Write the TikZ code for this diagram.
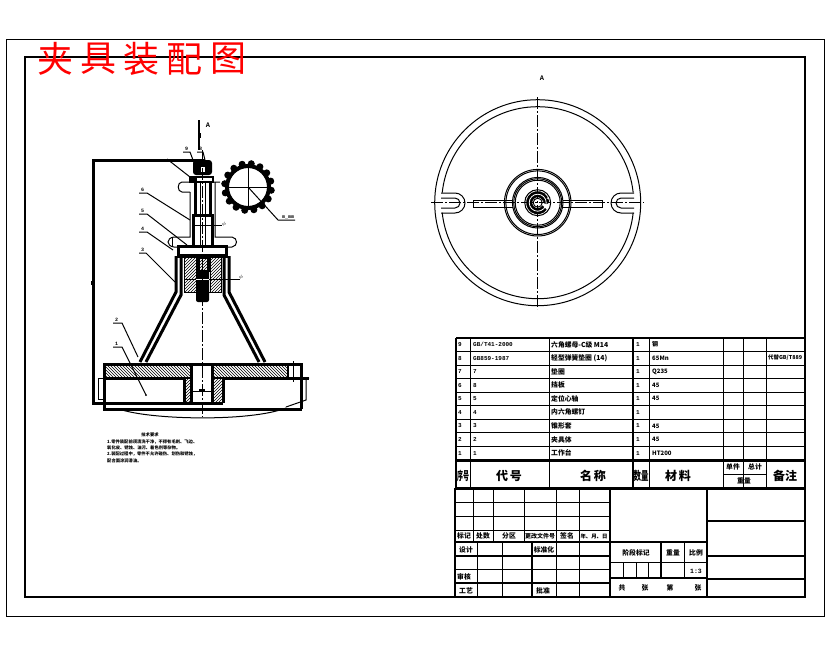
\documentclass[tikz,border=0pt]{standalone}
\usepackage{fontspec}
\setmainfont{Liberation Serif}
\newfontfamily\cjk{Noto Sans CJK SC}
\newfontfamily\latinmono{Liberation Mono}
\usetikzlibrary{patterns}
\tikzset{
  hair/.style={line width=1pt},
  mid/.style={line width=1.5pt},
  heavy/.style={line width=2.2pt},
  heavier/.style={line width=3pt},
  axisline/.style={line width=1pt,dash pattern=on 12pt off 2pt on 2pt off 2pt},
  cell/.style={font=\cjk\bfseries\fontsize{6.8}{8}\selectfont,inner sep=0pt},
  code/.style={font=\latinmono\bfseries\fontsize{6}{6}\selectfont,inner sep=0pt},
  headcell/.style={font=\cjk\bfseries\fontsize{12}{12}\selectfont,inner sep=0pt},
  tag/.style={font=\latinmono\bfseries\fontsize{5}{5}\selectfont,inner sep=0pt},
  note/.style={font=\cjk\bfseries\fontsize{4.3}{5}\selectfont,inner sep=0pt,anchor=west},
}
\begin{document}
\begin{tikzpicture}[x=1pt,y=-1pt]
  \useasboundingbox (0,0) rectangle (830,654);
  \draw [hair] (6,39) rectangle (824,616);
  \draw [heavy] (25,57) rectangle (805,597);

  % left view: frame and base
  \draw [heavier] (205,160) -- (93,160) -- (93,403) -- (223,403);
  \fill (91,281) rectangle (93,285);
  \draw [pattern=north west lines] (105,365) rectangle (190,377);
  \draw [pattern=north west lines] (213,365) rectangle (288,377);
  \draw [pattern=north east lines] (185,378) rectangle (190,402);
  \draw [pattern=north east lines] (213,378) rectangle (222,402);
  \draw [heavier] (104,409) -- (104,364) -- (301,364) -- (301,409);
  \draw [heavier] (103,409) -- (302,409);
  \draw [heavier] (104,378) -- (184,378) -- (184,403);
  \draw [heavier] (223,403) -- (223,378) -- (309,378);
  \draw [heavier] (191,364) -- (191,403);
  \draw [heavier] (212,364) -- (212,403);
  \draw [heavy] (288,364) -- (288,378);
  \draw [hair] (293,361) -- (293,382);
  \draw [hair] (191,391) -- (212,391);
  \fill (199,389) rectangle (205,392);
  \draw [hair] (103,378) -- (98,378) -- (98,399) -- (103,399);
  \draw [hair] (309,378) -- (306,378) -- (306,400) -- (286,407);
  \draw [hair] (119,409) .. controls (150,420) and (250,422) .. (286,408);

  % cone
  \draw [heavier] (176,256) -- (176,292) -- (140,362);
  \draw [heavier] (181,257) -- (181,295) -- (146,362);
  \draw [heavier] (229,256) -- (229,292) -- (265,362);
  \draw [heavier] (224,257) -- (224,295) -- (259,362);
  \draw [pattern=north east lines] (184,257) rectangle (196,292);
  \draw [pattern=north east lines] (210,257) rectangle (221,292);
  \draw [hair] (184,257) -- (184,292) -- (221,292) -- (221,257);
  \draw [heavier] (178,246) rectangle (226,255);
  \draw [heavy] (175,257) -- (230,257);
  \fill [rounded corners=2pt] (196,270) rectangle (209,302);
  \draw [heavier] (197,258) -- (197,272);
  \draw [heavier] (209,258) -- (209,272);
  \draw [pattern=north east lines] (199,258) rectangle (207,270);
  \draw [hair] (184,279) -- (240,279);
  \draw [hair,white] (196,279) -- (209,279);

  % left view: clamp body
  \draw [hair] (190,192) -- (182,192) .. controls (177,192) and (177,182) .. (182,182) -- (220,182);
  \draw [hair] (190,192) -- (190,237) -- (174,237) .. controls (166,238) and (166,246) .. (174,247) -- (178,247);
  \draw [hair] (172,237) -- (172,247);
  \draw [hair] (215,182) -- (215,237) -- (232,237) .. controls (238,238) and (238,246) .. (232,247) -- (226,247);
  \draw [heavier] (195,182) -- (195,215);
  \draw [heavier] (210,182) -- (210,215);
  \draw [heavier] (193,247) -- (193,215) -- (212,215) -- (212,247);
  \draw [hair] (200,182) -- (200,246);
  \draw [hair] (205,182) -- (205,246);
  \draw [hair] (193,225) -- (222,225);

  % nut and washer
  \fill [rounded corners=3pt] (193,160) rectangle (212,175);
  \fill [white] (201,167) rectangle (205,172);
  \draw [mid] (190,177) rectangle (213,182);
  \fill (190,176) rectangle (197,181);

  % axis and view arrow
  \draw [axisline] (202,150) -- (202,417);
  \draw [mid] (199,120) -- (199,150);
  \fill (197.5,133) rectangle (200.5,138);
  \node (viewa) [code,font=\latinmono\bfseries\fontsize{7}{7}\selectfont] at (208,125) {A};

  % gear
  \draw [line width=4pt] (248,187) circle [radius=21];
  \foreach \a in {0,22.5,...,337.5} {
    \fill (248,187) ++(\a+8:23.5) circle [radius=3.5];
  }
  \draw [hair] (225,187) -- (271,187);
  \draw [hair] (248,164) -- (248,210);
  \node (gearlabel) [tag] at (288,217) {m\_mm};
  \draw [hair] (248,187) -- (278,220) -- (295,220);

  % leaders
  \foreach \n/\xa/\ya/\xb/\xc/\yc in {
    9/183/152/190/193/160,
    8/197/152/203/205/160,
    6/139/193/147/190/220,
    5/139/214/147/187/245,
    4/139/232/147/173/250,
    3/139/253/146/175/282,
    2/113/323/122/138/357,
    1/113/347/122/146/395} {
    \draw [hair] (\xa,\ya) -- (\xb,\ya) -- (\xc,\yc);
    \node (tag\n) [tag] at (\xa+3.5,\ya-3) {\n};
  }
  \draw [hair] (167,159) -- (190,177);
  \fill (146,395) circle [radius=1];
  \node (tagd) [tag] at (224,224) {$\phi$};
  \node (tage) [tag] at (241,277) {$\phi$};

  % notes
  \node (notehead) [note,anchor=center] at (150,435) {技术要求};
  \node (notea) [note] at (107,442) {1.零件装配前须清洗干净，不得有毛刺、飞边、};
  \node (noteb) [note] at (107,448) {氧化皮、锈蚀、油污、着色剂等杂物。};
  \node (notec) [note] at (107,454) {2.装配过程中，零件不允许碰伤、划伤和锈蚀，};
  \node (noted) [note] at (107,461) {配合面涂润滑油。};

  % top view
  \node (viewb) [code,font=\latinmono\bfseries\fontsize{7}{7}\selectfont] at (542,78) {A};
  \def\cx{537.7}
  \def\cy{202.7}
  \draw [hair] (\cx,\cy) circle [radius=103];
  \draw [hair] (\cx,\cy) ++(-6:96) arc [start angle=-6,end angle=-174,radius=96];
  \draw [hair] (\cx,\cy) ++(6:96) arc [start angle=6,end angle=174,radius=96];
  \foreach \r in {33.3,31.8,25.3,24,22.5,13} {
    \draw [hair] (\cx,\cy) circle [radius=\r];
  }
  \draw [axisline] (\cx,97) -- (\cx,309);
  \draw [axisline] (431,\cy) -- (644,\cy);
  % slots
  \draw [hair] (441,193) -- (455,193) arc [start angle=-90,end angle=90,radius=10] -- (441,213);
  \draw [hair] (441,198) -- (455,198) arc [start angle=-90,end angle=90,radius=5] -- (441,208);
  \draw [hair] (634,193) -- (621,193) arc [start angle=-90,end angle=-270,radius=10] -- (634,213);
  \draw [hair] (634,198) -- (621,198) arc [start angle=-90,end angle=-270,radius=5] -- (634,208);
  \draw [hair] (513,200) -- (473,200) -- (473,207) -- (513,207);
  \draw [hair] (563,200) -- (602,200) -- (602,207) -- (563,207);
  % centre stud
  \draw [line width=6pt] (\cx,\cy) ++(35:8.5) arc [start angle=35,end angle=335,radius=8.5];
  \fill (\cx+8.5,\cy-1.5) circle [radius=3];
  \draw [white,line width=.8pt] (\cx,\cy) circle [radius=8.5];
  \draw [hair] (\cx,\cy) circle [radius=4.5];

  % parts list
  \draw [mid] (456,338) -- (805,338);
  \foreach \y in {351.5,365.1,378.7,392.2,405.8,419.3,432.9,446.4} {
    \draw [hair] (456,\y) -- (805,\y);
  }
  \foreach \x in {470,549,649,723,743,766} {
    \draw [hair] (\x,338) -- (\x,488);
  }
  \fill [white] (724,461) rectangle (742,473);
  \fill [white] (744,475) rectangle (765,487);
  \draw [hair] (743,460) -- (743,474);
  \draw [hair] (723,474) -- (766,474);
  \draw [mid] (633,338) -- (633,488);
  \draw [heavy] (456,338) -- (456,488);
  \draw [heavier] (455,460) -- (805,460);
  \draw [heavier] (455,488) -- (805,488);

  \foreach \n/\codetext/\parttext/\mattext [count=\ci] in {
    9/{GB/T41-2000}/{六角螺母-C级 M14}/钢,
    8/GB859-1987/{轻型弹簧垫圈 (14)}/65Mn,
    7/7/垫圈/Q235,
    6/8/挡板/45,
    5/5/定位心轴/45,
    4/4/内六角螺钉/{},
    3/3/锥形套/45,
    2/2/夹具体/45,
    1/1/工作台/HT200} {
    \pgfmathsetmacro{\y}{344.6+13.56*(\ci-1)}
    \node (no\n) [code,anchor=center] at (460,\y) {\n};
    \node (code\n) [code,anchor=west] at (473,\y) {\codetext};
    \node (part\n) [cell,anchor=west] at (551,\y) {\parttext};
    \node (qty\n) [code,anchor=center] at (638,\y) {1};
    \node (mat\n) [code,anchor=west,font=\cjk\bfseries\fontsize{6}{6}\selectfont] at (652,\y) {\mattext};
  }
  \node (extra) [cell,anchor=west,font=\cjk\bfseries\fontsize{5.4}{6}\selectfont] at (768,358) {代替GB/T889};

  \node (hno) [headcell] at (463,476) {\scalebox{.5}[1]{序号}};
  \node (hcode) [headcell] at (509,476) {代\,号};
  \node (hname) [headcell] at (593,476) {名\,称};
  \node (hqty) [headcell] at (641,476) {\scalebox{.62}[1]{数量}};
  \node (hmat) [headcell] at (678,476) {材\,料};
  \node (hsingle) [cell] at (733,467) {单件};
  \node (htotal) [cell] at (755,467) {总计};
  \node (hweight) [cell] at (744,481) {重量};
  \node (hnote) [headcell] at (785,476) {备注};

  % title block
  \foreach \y in {502,516,530} {
    \draw [hair] (455,\y) -- (610,\y);
  }
  \foreach \x in {473,493,524,556,579} {
    \draw [hair] (\x,488) -- (\x,542);
  }
  \foreach \x in {477,502,556,579} {
    \draw [hair] (\x,542) -- (\x,597);
  }
  \draw [heavy] (532,542) -- (532,597);
  \draw [mid] (455,542) -- (707,542);
  \draw [mid] (455,556) -- (610,556);
  \draw [hair] (455,569) -- (610,569);
  \draw [mid] (455,583) -- (610,583);
  \draw [heavy] (610,488) -- (610,597);
  \draw [heavy] (707,488) -- (707,597);
  \draw [mid] (707,521) -- (805,521);
  \draw [mid] (707,556) -- (805,556);
  \draw [mid] (707,579) -- (805,579);
  \draw [hair] (610,562) -- (707,562);
  \draw [mid] (610,578) -- (707,578);
  \draw [mid] (661,542) -- (661,578);
  \draw [hair] (684,542) -- (684,578);
  \foreach \x in {623,636,648} {
    \draw [hair] (\x,562) -- (\x,578);
  }
  \draw [heavy] (455,488) -- (455,597);

  \foreach \x/\t in {464/标记,483/处数,509/分区,567/签名} {
    \node (t\x) [cell] at (\x,536) {\t};
  }
  \node (tchange) [cell,font=\cjk\bfseries\fontsize{6}{8}\selectfont] at (540,536) {更改文件号};
  \node (tdate) [cell,font=\cjk\bfseries\fontsize{5.4}{8}\selectfont] at (594,536) {年、月、日};
  \foreach \x/\y/\t in {466/550/设计,544/550/标准化,464/577/审核,466/591/工艺,543/591/批准,
    636/553/阶段标记,673/553/重量,696/553/比例,622/588/共,645/588/张,670/588/第,698/588/张} {
    \node (s\x) [cell] at (\x,\y) {\t};
  }
  \node (scale) [code,font=\latinmono\bfseries\fontsize{6.5}{7}\selectfont] at (696,571) {1:3};

  % red caption
  \foreach \x/\t in {55/夹,98/具,141/装,184/配,228/图} {
    \node (cap\x) [inner sep=0pt,red,font=\cjk\fontsize{36}{36}\selectfont] at (\x,59) {\t};
  }
\end{tikzpicture}
\end{document}
